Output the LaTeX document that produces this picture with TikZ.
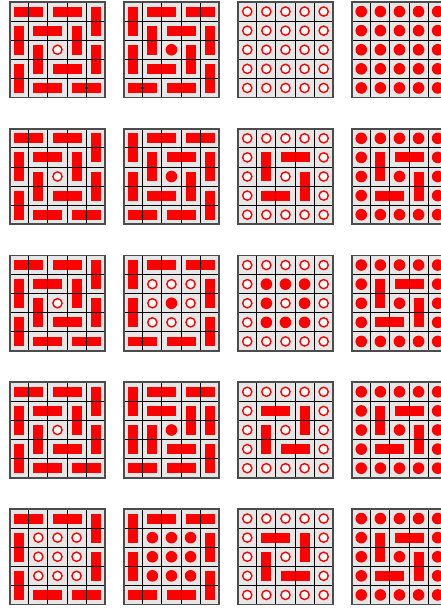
\documentclass[tikz,border=0pt]{standalone}
\definecolor{dred}{RGB}{255,0,0}
\definecolor{cellbg}{RGB}{230,230,230}
\tikzset{
  domino/.style={fill=dred},
  holeopen/.style={draw=dred,fill=white,line width=1.4pt},
  holefull/.style={fill=dred},
  gridline/.style={draw=black,line width=0.9pt},
  gridframe/.style={draw=black!70,line width=1.6pt},
}
\def\cs{19.1}
\def\ins{4.6}
\newcommand\HDom[2]{\fill[domino] ({#2*\cs+\ins},{#1*\cs+\ins}) rectangle ({(#2+2)*\cs-\ins},{(#1+1)*\cs-\ins});}
\newcommand\VDom[2]{\fill[domino] ({#2*\cs+\ins},{#1*\cs+\ins}) rectangle ({(#2+1)*\cs-\ins},{(#1+2)*\cs-\ins});}
\newcommand\OCirc[2]{\draw[holeopen] ({(#2+0.5)*\cs},{(#1+0.5)*\cs}) circle[radius=4.6pt];}
\newcommand\FCirc[2]{\fill[holefull] ({(#2+0.5)*\cs},{(#1+0.5)*\cs}) circle[radius=5.8pt];}
\newcommand\OuterA{\HDom{0}{0}\HDom{0}{2}\VDom{0}{4}\VDom{1}{0}\VDom{2}{4}\VDom{3}{0}\HDom{4}{1}\HDom{4}{3}}
\newcommand\OuterB{\VDom{0}{0}\HDom{0}{1}\HDom{0}{3}\VDom{1}{4}\VDom{2}{0}\VDom{3}{4}\HDom{4}{0}\HDom{4}{2}}
\newcommand\InnerA{\HDom{1}{1}\VDom{1}{3}\VDom{2}{1}\HDom{3}{2}}
\newcommand\InnerB{\VDom{1}{1}\HDom{1}{2}\VDom{2}{3}\HDom{3}{1}}
\newcommand\OuterO{\foreach \jj in {0,...,4}{\OCirc{0}{\jj}\OCirc{4}{\jj}}\foreach \ii in {1,2,3}{\OCirc{\ii}{0}\OCirc{\ii}{4}}}
\newcommand\OuterF{\foreach \jj in {0,...,4}{\FCirc{0}{\jj}\FCirc{4}{\jj}}\foreach \ii in {1,2,3}{\FCirc{\ii}{0}\FCirc{\ii}{4}}}
\newcommand\RingO{\foreach \ii/\jj in {1/1,1/2,1/3,2/1,2/3,3/1,3/2,3/3}{\OCirc{\ii}{\jj}}}
\newcommand\RingF{\foreach \ii/\jj in {1/1,1/2,1/3,2/1,2/3,3/1,3/2,3/3}{\FCirc{\ii}{\jj}}}
\newcommand\CenO{\OCirc{2}{2}}
\newcommand\CenF{\FCirc{2}{2}}
\newcommand\GridAt[3]{%
  \begin{scope}[shift={(#1,#2)}]
    \fill[cellbg] (0,0) rectangle ({5*\cs},{5*\cs});
    #3
    \foreach \kk in {1,...,4}{%
      \draw[gridline] ({\kk*\cs},0) -- ({\kk*\cs},{5*\cs});
      \draw[gridline] (0,{\kk*\cs}) -- ({5*\cs},{\kk*\cs});
    }
    \draw[gridframe] (0,0) rectangle ({5*\cs},{5*\cs});
  \end{scope}}
\def\xA{9.7}\def\xB{123.7}\def\xC{237.7}\def\xD{351.7}
\begin{document}
\begin{tikzpicture}[x=1pt,y=-1pt]
\useasboundingbox (0,0) rectangle (441,608);
\fill[white] (0,0) rectangle (441,608);
\clip (0,0) rectangle (441,608);
% row 1
\GridAt{\xA}{2}{\OuterA\InnerA\CenO}
\GridAt{\xB}{2}{\OuterB\InnerB\CenF}
\GridAt{\xC}{2}{\OuterO\RingO\CenO}
\GridAt{\xD}{2}{\OuterF\RingF\CenF}
% row 2
\GridAt{\xA}{128.75}{\OuterA\InnerA\CenO}
\GridAt{\xB}{128.75}{\OuterB\InnerB\CenF}
\GridAt{\xC}{128.75}{\OuterO\InnerB\CenO}
\GridAt{\xD}{128.75}{\OuterF\InnerB\CenF}
% row 3
\GridAt{\xA}{255.5}{\OuterA\InnerA\CenO}
\GridAt{\xB}{255.5}{\OuterB\RingO\CenF}
\GridAt{\xC}{255.5}{\OuterO\RingF\CenO}
\GridAt{\xD}{255.5}{\OuterF\InnerB\CenF}
% row 4
\GridAt{\xA}{382.25}{\OuterA\InnerA\CenO}
\GridAt{\xB}{382.25}{\OuterB\InnerA\CenF}
\GridAt{\xC}{382.25}{\OuterO\InnerA\CenO}
\GridAt{\xD}{382.25}{\OuterF\InnerB\CenF}
% row 5
\GridAt{\xA}{509}{\OuterA\RingO\CenO}
\GridAt{\xB}{509}{\OuterB\RingF\CenF}
\GridAt{\xC}{509}{\OuterO\InnerA\CenO}
\GridAt{\xD}{509}{\OuterF\InnerB\CenF}
\end{tikzpicture}
\end{document}
